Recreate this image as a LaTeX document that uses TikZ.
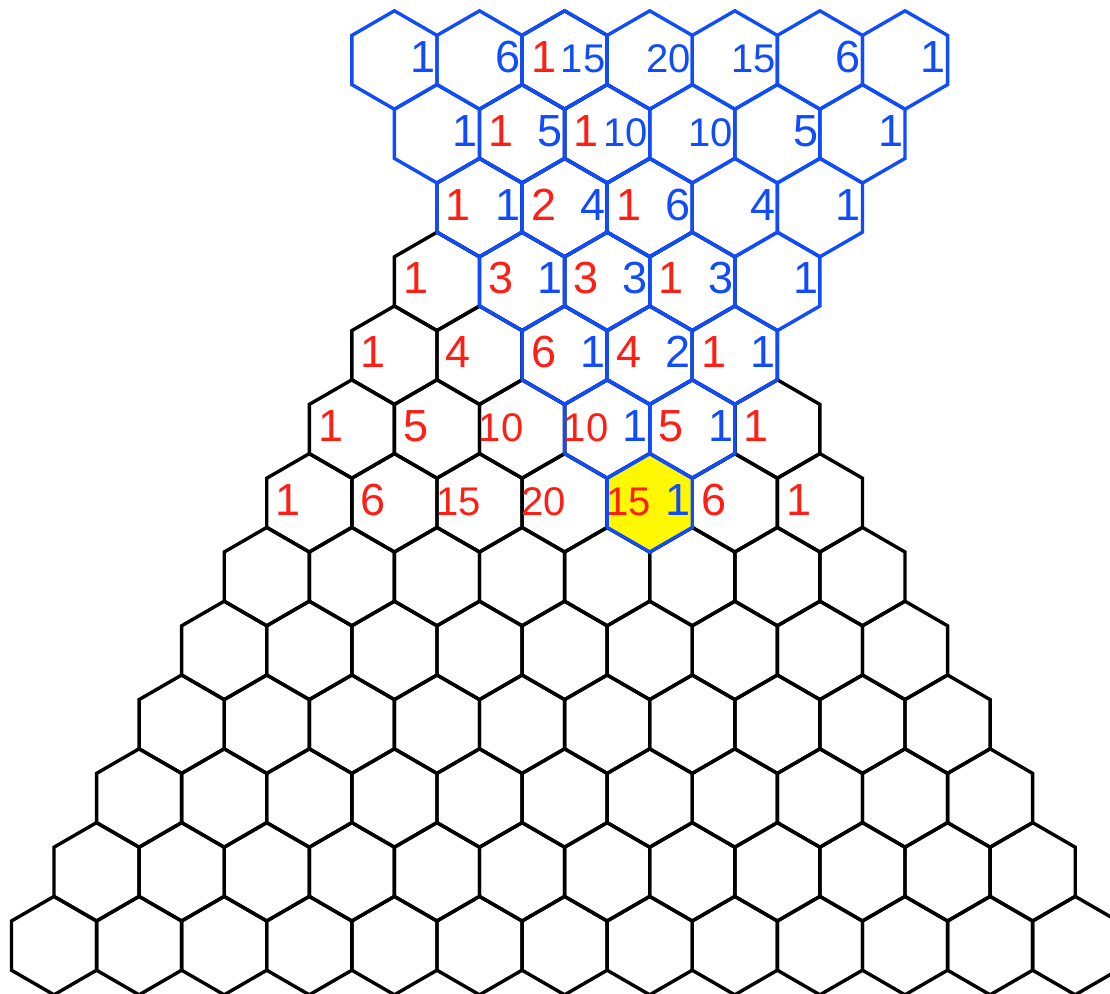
\documentclass[tikz,border=0pt]{standalone}
\usepackage{fontspec}
\setmainfont{Liberation Sans}
\definecolor{hexblue}{RGB}{16,76,252}
\definecolor{numred}{RGB}{255,30,20}
\definecolor{hexyellow}{RGB}{255,248,0}
\def\hw{42.55}
\def\hs{49.2}
\def\hd{73.8}
\newcommand\hexat[3]{\path[#1] (#2,#3-\hs) -- ++(\hw,\hs/2) -- ++(0,\hs) -- ++(-\hw,\hs/2) -- ++(-\hw,-\hs/2) -- ++(0,-\hs) -- cycle;}
\begin{document}
\begin{tikzpicture}[x=1pt,y=-1pt,
  blackhex/.style={draw=black,line width=3.4pt},
  bluehex/.style={draw=hexblue,line width=3.4pt},
  yellowhex/.style={fill=hexyellow},
  redlbl/.style={text=numred,inner sep=0pt,anchor=base},
  bluelbl/.style={text=hexblue,inner sep=0pt,anchor=base east}]
\useasboundingbox (0,0) rectangle (1110,993);
\clip (0,0) rectangle (1110,993);
% black triangle (Pascal)
\foreach \r in {0,...,12}{
  \foreach \j in {0,...,\r}{
    \pgfmathsetmacro\cx{564.6-\r*\hw+\j*2*\hw}
    \pgfmathsetmacro\cy{60+\r*\hd}
    \hexat{blackhex}{\cx}{\cy}
  }
}
% yellow apex of inverted triangle
\pgfmathsetmacro\cx{564.6-6*\hw+8*\hw}
\pgfmathsetmacro\cy{60+6*\hd}
\hexat{yellowhex}{\cx}{\cy}
% blue inverted triangle
\foreach \r in {0,...,6}{
  \pgfmathtruncatemacro\jm{6-\r}
  \foreach \j in {0,...,\jm}{
    \pgfmathsetmacro\cx{564.6-4*\hw+\r*\hw+\j*2*\hw}
    \pgfmathsetmacro\cy{60+\r*\hd}
    \hexat{bluehex}{\cx}{\cy}
  }
}
% red labels (Pascal rows)
\foreach \r/\vals in {0/{1},1/{1,1},2/{1,2,1},3/{1,3,3,1},4/{1,4,6,4,1},5/{1,5,10,10,5,1},6/{1,6,15,20,15,6,1}}{
  \foreach \v [count=\j from 0] in \vals {
    \pgfmathsetmacro\cx{564.6-\r*\hw+\j*2*\hw}
    \pgfmathsetmacro\cy{60+\r*\hd}
    \pgfmathtruncatemacro\lblsize{\v>9 ? 40 : 45}
    \node[redlbl,font=\fontsize{\lblsize}{\lblsize}\selectfont] (red-\r-\j) at (\cx-21,\cy+12.5) {\v};
  }
}
% blue labels (inverted rows)
\foreach \r/\vals in {0/{1,6,15,20,15,6,1},1/{1,5,10,10,5,1},2/{1,4,6,4,1},3/{1,3,3,1},4/{1,2,1},5/{1,1},6/{1}}{
  \foreach \v [count=\j from 0] in \vals {
    \pgfmathsetmacro\cx{564.6-4*\hw+\r*\hw+\j*2*\hw}
    \pgfmathsetmacro\cy{60+\r*\hd}
    \pgfmathtruncatemacro\lblsize{\v>9 ? 40 : 45}
    \node[bluelbl,font=\fontsize{\lblsize}{\lblsize}\selectfont] (blue-\r-\j) at (\cx+\hw-1.5,\cy+12.5) {\v};
  }
}
\end{tikzpicture}
\end{document}
